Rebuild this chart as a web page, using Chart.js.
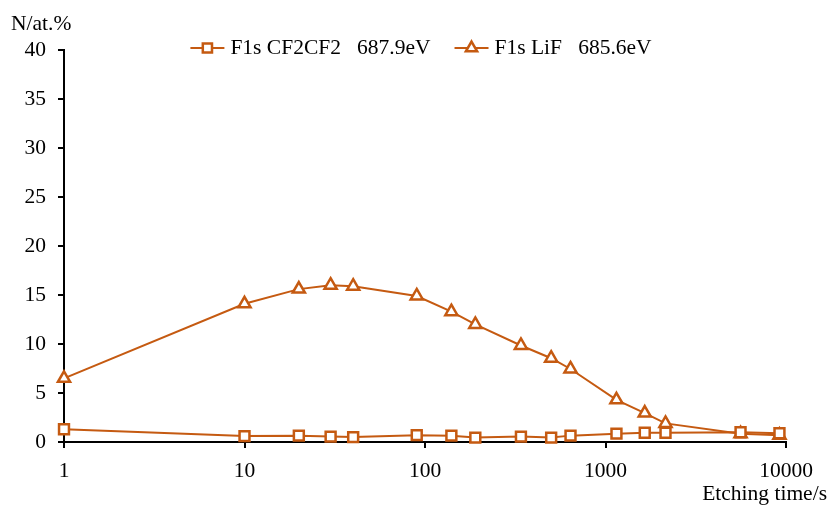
<!DOCTYPE html>
<html>
<head>
<meta charset="utf-8">
<script src="https://cdn.jsdelivr.net/npm/chart.js@4.4.1/dist/chart.umd.min.js"></script>
<style>
  html, body { margin: 0; padding: 0; background: #fff; }
  #wrap { width: 833px; height: 507px; }
</style>
</head>
<body>
<div id="wrap"><canvas id="c" width="833" height="507"></canvas></div>
<script>
// Etching time (s) at which each XPS spectrum was taken
const etchingTimes = [1, 10, 20, 30, 40, 90, 140, 190, 340, 500, 640, 1150, 1650, 2150, 5600, 9200];
// Atomic concentration (at.%) of each fluorine component
const cf2Values = [1.3, 0.6, 0.65, 0.55, 0.5, 0.7, 0.65, 0.45, 0.55, 0.45, 0.65, 0.85, 0.95, 0.95, 1.0, 0.9];
const lifValues = [6.5, 14.1, 15.6, 16.0, 15.9, 14.9, 13.3, 12.0, 9.85, 8.55, 7.45, 4.3, 2.95, 1.9, 0.85, 0.7];
const seriesNames = ['F1s CF2CF2   687.9eV', 'F1s LiF   685.6eV'];
const xTickValues = [1, 10, 100, 1000, 10000];
const yTickValues = [0, 5, 10, 15, 20, 25, 30, 35, 40];
const yAxisTitle = 'N/at.%';
const xAxisTitle = 'Etching time/s';

const ORANGE = '#C55A11';
const FONT_FAMILY = "'Liberation Serif', 'Times New Roman', serif";
const FONT_SIZE = 21.5;
const tickFont = { family: FONT_FAMILY, size: FONT_SIZE };

const toPoints = (ys) => etchingTimes.map((t, i) => ({ x: t, y: ys[i] }));

// Legend with a line segment and marker in front of each label
const lineLegend = {
  id: 'lineLegend',
  afterDraw(chart) {
    const ctx = chart.ctx;
    const area = chart.chartArea;
    ctx.save();
    ctx.font = FONT_SIZE + 'px ' + FONT_FAMILY;
    ctx.textBaseline = 'middle';
    const lineLen = 34, textGap = 6, itemGap = 24;
    const items = chart.data.datasets.map(ds => ({ ds, w: lineLen + textGap + ctx.measureText(ds.label).width }));
    const total = items.reduce((s, it) => s + it.w, 0) + itemGap * (items.length - 1);
    let x = (area.left + area.right) / 2 - 4 - total / 2;
    const y = 48;
    items.forEach(({ ds, w }) => {
      ctx.strokeStyle = ds.borderColor;
      ctx.lineWidth = ds.borderWidth;
      ctx.beginPath();
      ctx.moveTo(x, y);
      ctx.lineTo(x + lineLen, y);
      ctx.stroke();
      ctx.fillStyle = ds.pointBackgroundColor;
      ctx.strokeStyle = ds.pointBorderColor;
      ctx.lineWidth = ds.pointBorderWidth;
      Chart.helpers.drawPoint(ctx, { pointStyle: ds.pointStyle, radius: ds.pointRadius - 0.5, rotation: 0, borderWidth: ds.pointBorderWidth }, x + lineLen / 2, y);
      ctx.fillStyle = '#000';
      ctx.textAlign = 'left';
      ctx.fillText(ds.label, x + lineLen + textGap, y);
      x += w + itemGap;
    });
    ctx.restore();
  }
};

// Axis titles placed at the top of the y axis and under the right end of the x axis
const axisTitles = {
  id: 'axisTitles',
  afterDraw(chart) {
    const ctx = chart.ctx;
    ctx.save();
    ctx.font = FONT_SIZE + 'px ' + FONT_FAMILY;
    ctx.fillStyle = '#000';
    ctx.textBaseline = 'alphabetic';
    ctx.textAlign = 'left';
    ctx.fillText(yAxisTitle, 11, 30);
    ctx.textAlign = 'right';
    ctx.fillText(xAxisTitle, 827, 500);
    ctx.restore();
  }
};

const commonSeries = {
  borderColor: ORANGE,
  borderWidth: 2,
  pointBorderColor: ORANGE,
  pointBackgroundColor: '#fff',
  pointBorderWidth: 2.5,
  pointRadius: 7,
  pointHoverRadius: 7,
  tension: 0,
  fill: false,
  clip: false
};

new Chart(document.getElementById('c'), {
  type: 'line',
  data: {
    datasets: [
      Object.assign({ label: seriesNames[0], data: toPoints(cf2Values), pointStyle: 'rect' }, commonSeries),
      Object.assign({ label: seriesNames[1], data: toPoints(lifValues), pointStyle: 'triangle' }, commonSeries)
    ]
  },
  options: {
    responsive: false,
    animation: false,
    devicePixelRatio: 1,
    layout: { padding: { left: 0, right: 47, top: 50, bottom: 0 } },
    plugins: { legend: { display: false }, tooltip: { enabled: false } },
    scales: {
      x: {
        type: 'logarithmic',
        min: 1,
        max: 10000,
        afterBuildTicks: (s) => { s.ticks = xTickValues.map(v => ({ value: v })); },
        afterFit: (s) => { s.height = 65; },
        ticks: { callback: (v) => String(v), autoSkip: false, maxRotation: 0, color: '#000', font: tickFont, padding: 10 },
        grid: { drawOnChartArea: false, drawTicks: true, tickLength: 6, color: '#000', lineWidth: 2 },
        border: { display: true, color: '#000', width: 2 }
      },
      y: {
        min: 0,
        max: 40,
        afterBuildTicks: (s) => { s.ticks = yTickValues.map(v => ({ value: v })); },
        afterFit: (s) => { s.width = 64; },
        ticks: { callback: (v) => String(v), color: '#000', font: tickFont, padding: 12 },
        grid: { drawOnChartArea: false, drawTicks: true, tickLength: 6, color: '#000', lineWidth: 2 },
        border: { display: true, color: '#000', width: 2 }
      }
    }
  },
  plugins: [lineLegend, axisTitles]
});
</script>
</body>
</html>
